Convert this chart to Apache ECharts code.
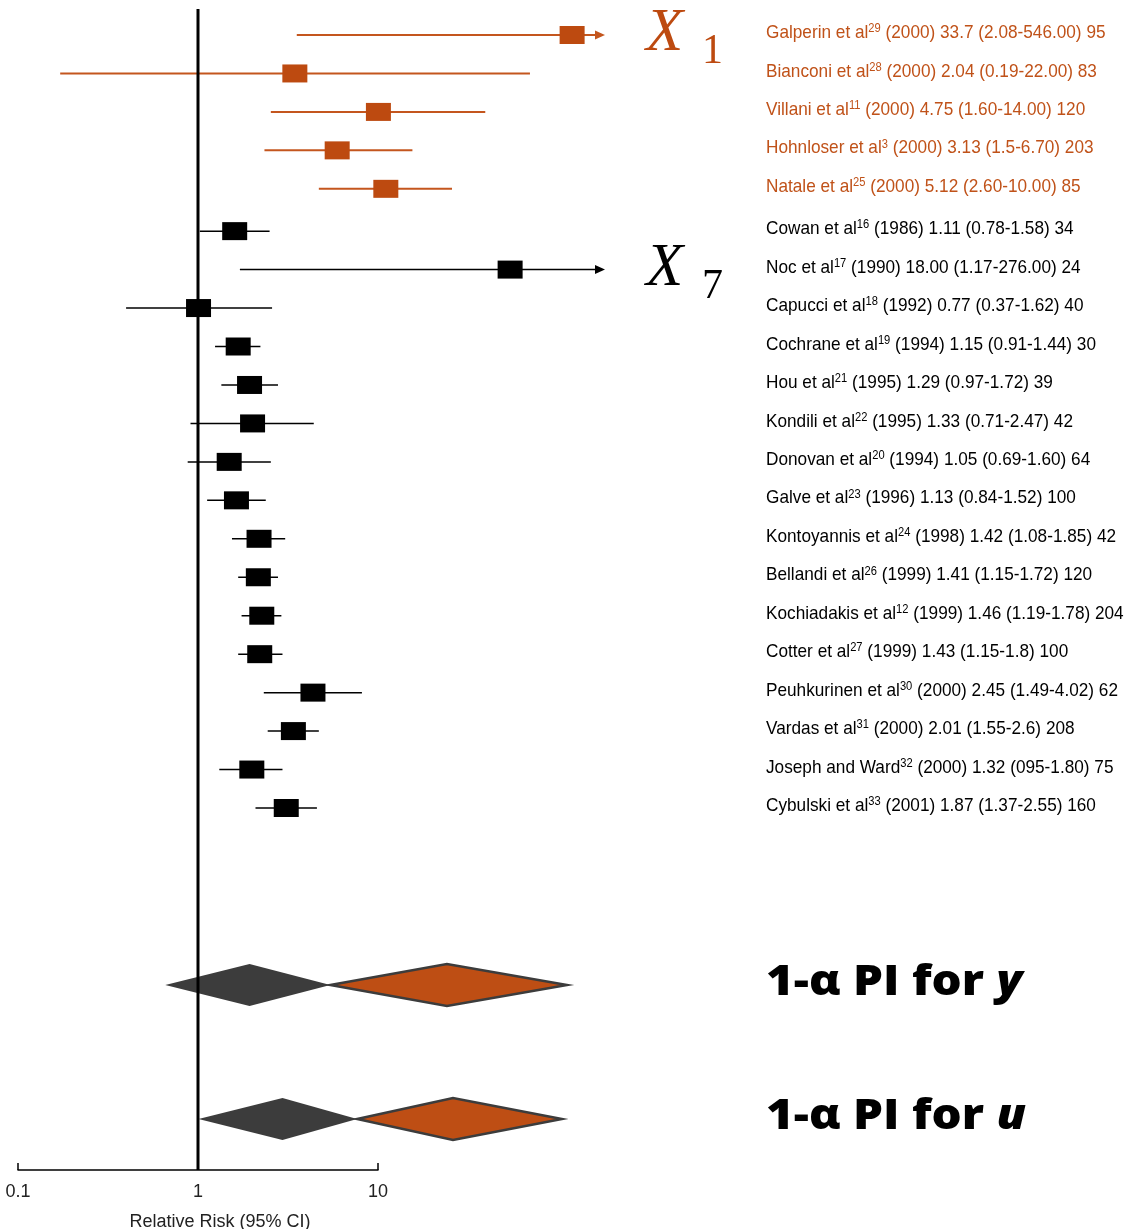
<!DOCTYPE html>
<html>
<head>
<meta charset="utf-8">
<script src="https://cdn.jsdelivr.net/npm/echarts@6/dist/echarts.min.js"></script>
<style>
  html, body { margin: 0; padding: 0; background: #fff; overflow: hidden; }
  #chart { width: 1133px; height: 1229px; }
</style>
</head>
<body>
<div id="chart"></div>
<script>
// Studies of post-operative atrial fibrillation risk, relative risk with 95% CI
const studies = ['Galperin et al', 'Bianconi et al', 'Villani et al', 'Hohnloser et al', 'Natale et al',
  'Cowan et al', 'Noc et al', 'Capucci et al', 'Cochrane et al', 'Hou et al', 'Kondili et al',
  'Donovan et al', 'Galve et al', 'Kontoyannis et al', 'Bellandi et al', 'Kochiadakis et al',
  'Cotter et al', 'Peuhkurinen et al', 'Vardas et al', 'Joseph and Ward', 'Cybulski et al'];
const refs = ['29', '28', '11', '3', '25', '16', '17', '18', '19', '21', '22', '20', '23', '24', '26',
  '12', '27', '30', '31', '32', '33'];
const years = ['2000', '2000', '2000', '2000', '2000', '1986', '1990', '1992', '1994', '1995', '1995',
  '1994', '1996', '1998', '1999', '1999', '1999', '2000', '2000', '2000', '2001'];
const rrText = ['33.7', '2.04', '4.75', '3.13', '5.12', '1.11', '18.00', '0.77', '1.15', '1.29', '1.33',
  '1.05', '1.13', '1.42', '1.41', '1.46', '1.43', '2.45', '2.01', '1.32', '1.87'];
const ciText = ['2.08-546.00', '0.19-22.00', '1.60-14.00', '1.5-6.70', '2.60-10.00', '0.78-1.58',
  '1.17-276.00', '0.37-1.62', '0.91-1.44', '0.97-1.72', '0.71-2.47', '0.69-1.60', '0.84-1.52',
  '1.08-1.85', '1.15-1.72', '1.19-1.78', '1.15-1.8', '1.49-4.02', '1.55-2.6', '095-1.80', '1.37-2.55'];
const ciLow = [2.08, 0.19, 1.60, 1.5, 2.60, 0.78, 1.17, 0.37, 0.91, 0.97, 0.71, 0.69, 0.84, 1.08, 1.15,
  1.19, 1.15, 1.49, 1.55, 0.95, 1.37];
const ciHigh = [546.00, 22.00, 14.00, 6.70, 10.00, 1.58, 276.00, 1.62, 1.44, 1.72, 2.47, 1.60, 1.52,
  1.85, 1.72, 1.78, 1.8, 4.02, 2.6, 1.80, 2.55];
const patients = ['95', '83', '120', '203', '85', '34', '24', '40', '30', '39', '42', '64', '100', '42',
  '120', '204', '100', '62', '208', '75', '160'];
const newStudyCount = 5;               // first rows are the new (highlighted) studies
const annotated = { 0: '1', 6: '7' };  // rows carrying an X subscript tag

// Prediction intervals: [low, centre, high]
const piNames = ['y', 'u'];
const piPast = [[0.55, 1.29, 2.92], [0.77, 1.80, 3.83]];
const piNew = [[2.92, 9.5, 32.0], [3.83, 10.1, 30.4]];

// Tick labels of the relative-risk axis
const rrTicks = ['0.1', '1', '10'];

const ORANGE = '#BD4A10';
const ORANGE_LINE = '#C4561E';
const ORANGE_TEXT = '#C05219';
const GREY = '#3C3C3C';
const SANS = "'Liberation Sans', Arial, sans-serif";
const SERIF = "'Liberation Serif', 'DejaVu Serif', serif";
const HEAVY = "'Open Sans', 'Noto Sans', sans-serif";
const markMin = 0.14, markMax = 47;
const groupGap = 0.1;                  // extra space between the two groups of studies

const chart = echarts.init(document.getElementById('chart'), null, { renderer: 'canvas' });

const studyRich = {
  o: { fill: ORANGE_TEXT, fontSize: 18.5, fontFamily: SANS, lineHeight: 22 },
  os: { fill: ORANGE_TEXT, fontSize: 12, fontFamily: SANS, lineHeight: 12, verticalAlign: 'top', padding: [1, 0, 0, 0] },
  k: { fill: '#000', fontSize: 18.5, fontFamily: SANS, lineHeight: 22 },
  ks: { fill: '#000', fontSize: 12, fontFamily: SANS, lineHeight: 12, verticalAlign: 'top', padding: [1, 0, 0, 0] }
};

function studyLabel(i) {
  const k = i < newStudyCount ? 'o' : 'k';
  return `{${k}|${studies[i]}}{${k}s|${refs[i]}}{${k}| (${years[i]}) ${rrText[i]} (${ciText[i]}) ${patients[i]}}`;
}

function drawStudy(params, api) {
  const idx = api.value(4);
  const pos = api.value(3);
  const isNew = idx < newStudyCount;
  const lineColor = isNew ? ORANGE_LINE : '#000';
  const hi = api.value(2);
  const clipped = hi > markMax;
  const pEst = api.coord([api.value(0), pos]);
  const pLo = api.coord([api.value(1), pos]);
  const pHi = api.coord([Math.min(hi, markMax), pos]);
  const y = pEst[1];
  const cs = params.coordSys;
  const children = [];
  children.push({
    type: 'line',
    shape: { x1: pLo[0], y1: y, x2: clipped ? pHi[0] - 8 : pHi[0], y2: y },
    style: { stroke: lineColor, lineWidth: isNew ? 2 : 1.5 }
  });
  if (clipped) {
    children.push({
      type: 'polygon',
      shape: { points: [[pHi[0], y], [pHi[0] - 10, y - 4.5], [pHi[0] - 10, y + 4.5]] },
      style: { fill: lineColor }
    });
  }
  children.push({
    type: 'rect',
    shape: { x: pEst[0] - 12.5, y: y - 9, width: 25, height: 18 },
    style: { fill: isNew ? ORANGE : '#000' }
  });
  if (annotated[idx] !== undefined) {
    const c = isNew ? ORANGE : '#000';
    children.push({
      type: 'text', x: pHi[0] + 41, y: y - 1,
      style: { x: 0, y: 0, text: 'X', fill: c, font: 'italic 61px ' + SERIF,
        verticalAlign: 'middle', align: 'left' }
    });
    children.push({
      type: 'text', x: pHi[0] + 97, y: y + 17,
      style: { x: 0, y: 0, text: annotated[idx], fill: c, font: '42px ' + SERIF,
        verticalAlign: 'middle', align: 'left' }
    });
  }
  // study description in the right-hand column
  children.push({
    type: 'text', x: cs.x + cs.width + 161, y: y - 2, scaleX: 0.93,
    style: { x: 0, y: 0, text: studyLabel(idx), rich: studyRich, verticalAlign: 'middle', align: 'left' }
  });
  return { type: 'group', children };
}

function drawDiamond(params, api) {
  const row = api.value(3);
  const lo = api.coord([api.value(0), row]);
  const mid = api.coord([api.value(1), row]);
  const hi = api.coord([api.value(2), row]);
  const isNew = api.value(4) === 1;
  const y = mid[1];
  const cs = params.coordSys;
  const children = [{
    type: 'polygon',
    shape: { points: [[lo[0], y], [mid[0], y - 21], [hi[0], y], [mid[0], y + 21]] },
    style: isNew ? { fill: '#BE4E14', stroke: GREY, lineWidth: 2.5 } : { fill: GREY }
  }];
  if (!isNew) {
    children.push({
      type: 'text', x: cs.x + cs.width + 161, y: y - 2, scaleX: 1.13,
      style: {
        x: 0, y: 0, text: `{b|1-α PI for }{i|${piNames[row]}}`, verticalAlign: 'middle', align: 'left',
        rich: {
          b: { fill: '#000', fontSize: 42, fontWeight: 800, fontFamily: HEAVY },
          i: { fill: '#000', fontSize: 42, fontWeight: 800, fontStyle: 'italic', fontFamily: HEAVY }
        }
      }
    });
  }
  return { type: 'group', children };
}

const studyData = studies.map((s, i) =>
  [Number(rrText[i]), ciLow[i], ciHigh[i], i < newStudyCount ? i : i + groupGap, i]);
const diamondData = [];
piNames.forEach((n, k) => {
  diamondData.push([piPast[k][0], piPast[k][1], piPast[k][2], k, 0]);
  diamondData.push([piNew[k][0], piNew[k][1], piNew[k][2], k, 1]);
});

const option = {
  animation: false,
  backgroundColor: '#fff',
  grid: [
    { left: 30, right: 528, top: 15, height: 813, outerBoundsMode: 'none', containLabel: false },  // study rows
    { left: 18, right: 755, top: 9, bottom: 59, outerBoundsMode: 'none', containLabel: false },   // relative-risk axis
    { left: 30, right: 528, top: 918, height: 268, outerBoundsMode: 'none', containLabel: false } // prediction intervals
  ],
  xAxis: [
    { type: 'log', gridIndex: 0, min: markMin, max: markMax, show: false },
    {
      type: 'log', gridIndex: 1, min: 0.1, max: 10,
      axisLine: { show: true, lineStyle: { color: '#000', width: 1.5 } },
      axisTick: { show: true, inside: true, length: 7, lineStyle: { color: '#000', width: 1.5 } },
      minorTick: { show: false },
      splitLine: { show: false },
      axisLabel: {
        margin: 13, color: '#222', fontSize: 18, fontFamily: SANS,
        formatter: v => rrTicks.find(t => Math.abs(Number(t) - v) < 1e-9) || ''
      },
      name: 'Relative Risk (95% CI)',
      nameLocation: 'middle',
      nameGap: 43,
      nameTextStyle: { color: '#222', fontSize: 18, fontFamily: SANS, padding: [0, 0, 0, 44] }
    },
    { type: 'log', gridIndex: 2, min: markMin, max: markMax, show: false }
  ],
  yAxis: [
    { type: 'value', gridIndex: 0, inverse: true, min: -0.52, max: 20.62, show: false },
    { type: 'value', gridIndex: 1, min: 0, max: 1, show: false },
    { type: 'category', gridIndex: 2, inverse: true, data: piNames, show: false }
  ],
  series: [
    {
      type: 'custom', xAxisIndex: 0, yAxisIndex: 0, renderItem: drawStudy, clip: false,
      encode: { x: [0, 1, 2], y: 3 }, data: studyData, z: 3, silent: true
    },
    {
      type: 'custom', xAxisIndex: 2, yAxisIndex: 2, renderItem: drawDiamond, clip: false,
      encode: { x: [0, 1, 2], y: 3 }, data: diamondData, z: 3, silent: true
    },
    {
      // line of no effect (RR = 1)
      type: 'line', xAxisIndex: 1, yAxisIndex: 1, data: [[1, 0], [1, 1]],
      showSymbol: false, symbol: 'none', lineStyle: { color: '#000', width: 3 }, z: 10, silent: true
    }
  ]
};

chart.setOption(option);
</script>
</body>
</html>
